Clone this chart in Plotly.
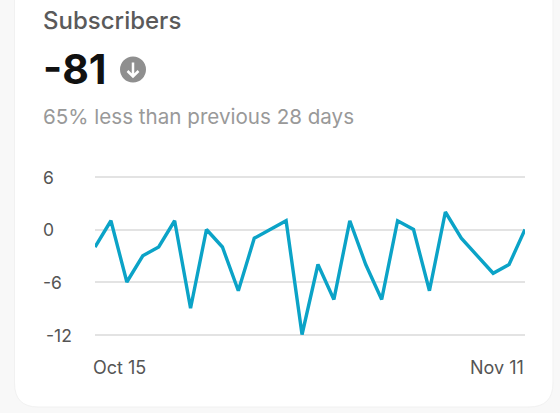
import plotly.graph_objects as go
import pandas as pd

W, H = 560, 413
dates = pd.date_range("2024-10-15", "2024-11-11").strftime("%Y-%m-%d").tolist()
subscribers = [-2, 1, -6, -3, -2, 1, -9, 0, -2, -7, -1, 0, 1, -12, -4, -8, 1, -4, -8, 1, 0, -7, 2, -1, -3, -5, -4, 0]
y_ticks = [6, 0, -6, -12]
y_labels = ["6", "0", "-6", "-12"]
title = "Subscribers"
total = "-81"
subtitle = "65% less than previous 28 days"

def px(x):
    return x / W
def py(y):
    return 1 - y / H

fig = go.Figure(go.Scatter(
    x=dates, y=subscribers, mode="lines",
    line=dict(color="#0ba3c7", width=3.4, shape="linear"),
    cliponaxis=False, hoverinfo="skip"))

def path_paper(points):
    out = []
    for cmd, pts in points:
        coords = " ".join(f"{px(x):.5f},{py(y):.5f}" for x, y in pts)
        out.append(f"{cmd} {coords}")
    return " ".join(out) + " Z"

card_path = path_paper([
    ("M", [(14.5, -2)]), ("L", [(14.5, 383)]), ("Q", [(14.5, 407), (38, 407)]),
    ("L", [(529, 407)]), ("Q", [(553, 407), (553, 383)]), ("L", [(553, -2)]),
])
arrow_path = " ".join([
    f"M {px(133):.5f},{py(62.5):.5f} L {px(133):.5f},{py(76):.5f}",
    f"M {px(127.5):.5f},{py(71):.5f} L {px(133):.5f},{py(76.5):.5f} L {px(138.5):.5f},{py(71):.5f}",
])

fig.update_layout(
    width=W, height=H, margin=dict(l=0, r=0, t=0, b=0),
    paper_bgcolor="#f8f8f8", plot_bgcolor="rgba(0,0,0,0)",
    showlegend=False, font=dict(family="Inter", color="#555555"),
    xaxis=dict(domain=[px(95), px(525)], range=[dates[0], dates[-1]], type="date",
               showgrid=False, zeroline=False, showline=False, showticklabels=False, ticks=""),
    yaxis=dict(domain=[py(343.25), py(168.25)], range=[-13, 7], tickvals=y_ticks, ticktext=y_labels,
               showgrid=True, gridcolor="#e3e3e3", gridwidth=2, zeroline=False, showline=False,
               ticks="", showticklabels=False),
    shapes=[
        dict(type="path", path=card_path, xref="paper", yref="paper",
             fillcolor="#ffffff", line=dict(color="#f1f1f1", width=1), layer="below"),
        dict(type="circle", xref="paper", yref="paper", x0=px(120), x1=px(146), y0=py(82.5), y1=py(56.5),
             fillcolor="#8f8f8f", line=dict(width=0)),
        dict(type="path", path=arrow_path, xref="paper", yref="paper",
             line=dict(color="#ffffff", width=2.5)),
    ],
)

def text(x, y, s, size, color, anchor="left", weight=400):
    fig.add_annotation(xref="paper", yref="paper", x=px(x), y=py(y), text=s, showarrow=False,
                       xanchor=anchor, yanchor="middle",
                       borderpad=0, borderwidth=0,
                       font=dict(family="Inter", size=size, color=color, weight=weight))

text(43, 21, title, 24, "#5a5a5a", weight=500)
text(43, 69, total, 41, "#111111", weight=700)
text(43, 116, subtitle, 20.6, "#999999")
for lab, yy in zip(y_labels, [177, 229, 282, 335]):
    text(43 if lab != "-12" else 46, yy, lab, 17.5, "#555555")
text(93, 367, "Oct 15", 18, "#555555")
text(524, 367, "Nov 11", 18, "#555555", anchor="right")

fig.write_html("out.html", config={"displayModeBar": False},
               post_script="document.body.style.margin='0';document.body.style.overflow='hidden';")
